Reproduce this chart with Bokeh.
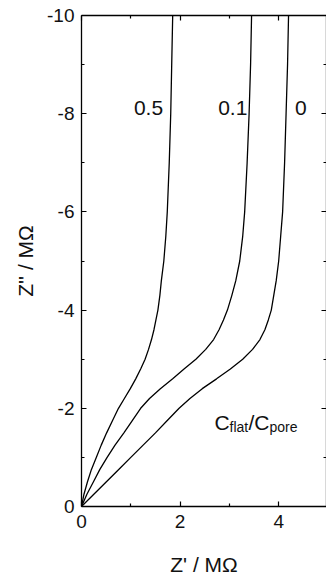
from bokeh.plotting import figure
from bokeh.models import Range1d, LinearAxis, FixedTicker, Label
from bokeh.embed import file_html
from bokeh.resources import INLINE

# Shared imaginary-part values (Z'' in MOhm)
z_imag = [0, -0.25, -0.5, -0.75, -1.0, -1.25, -1.5, -1.75, -2.0, -2.2, -2.4, -2.6, -2.8,
          -3.0, -3.2, -3.4, -3.6, -3.8, -4.0, -4.3, -4.6, -5.0, -5.5, -6.0, -7.0, -8.0,
          -9.0, -10.0]
# Real part (Z' in MOhm) for each Cflat/Cpore ratio
z_real_0 = [0, 0.25, 0.5, 0.75, 1.0, 1.25, 1.5, 1.74, 1.98, 2.2, 2.45, 2.74, 3.02,
            3.27, 3.47, 3.62, 3.72, 3.79, 3.85, 3.90, 3.95, 4.00, 4.04, 4.08, 4.12, 4.15,
            4.18, 4.20]
z_real_01 = [0, 0.11, 0.24, 0.37, 0.52, 0.68, 0.86, 1.03, 1.2, 1.38, 1.6, 1.85, 2.08,
             2.32, 2.52, 2.68, 2.79, 2.88, 2.96, 3.05, 3.13, 3.21, 3.27, 3.31, 3.36, 3.40,
             3.43, 3.45]
z_real_05 = [0, 0.05, 0.12, 0.2, 0.3, 0.4, 0.51, 0.63, 0.75, 0.87, 0.99, 1.1, 1.2,
             1.29, 1.36, 1.42, 1.47, 1.51, 1.55, 1.59, 1.62, 1.67, 1.71, 1.74, 1.78, 1.81,
             1.83, 1.85]

ratio_labels = ["0.5", "0.1", "0"]
x_major = [0, 2, 4]
x_minor = [1, 3]
y_major = [0, -2, -4, -6, -8, -10]
y_minor = [-1, -3, -5, -7, -9]

SANS = "Liberation Sans"

p = figure(width=326, height=578, x_range=Range1d(0, 4.97), y_range=Range1d(0, -10),
           output_backend="svg", toolbar_location=None,
           min_border_left=81, min_border_right=0, min_border_top=15, min_border_bottom=72)
p.grid.visible = False
p.outline_line_color = None
p.background_fill_color = "white"
p.border_fill_color = "white"


def style_axis(ax):
    ax.axis_line_color = "black"
    ax.axis_line_width = 1.3
    ax.major_tick_line_color = "black"
    ax.minor_tick_line_color = "black"
    ax.major_tick_line_width = 1.2
    ax.minor_tick_line_width = 1.2
    ax.major_tick_in = 5
    ax.major_tick_out = 0
    ax.minor_tick_in = 3
    ax.minor_tick_out = 0
    ax.major_label_text_font = SANS
    ax.major_label_text_font_size = "19px"
    ax.major_label_text_color = "#111111"
    ax.axis_label_text_font = SANS
    ax.axis_label_text_font_style = "normal"
    ax.axis_label_text_font_size = "21px"
    ax.axis_label_text_color = "#111111"


p.xaxis.ticker = FixedTicker(ticks=x_major, minor_ticks=x_minor)
p.yaxis.ticker = FixedTicker(ticks=y_major, minor_ticks=y_minor)
for ax in p.xaxis:
    style_axis(ax)
    ax.major_label_standoff = 8
    ax.axis_label = "Z' / M\u03a9"
    ax.axis_label_standoff = 22
for ax in p.yaxis:
    style_axis(ax)
    ax.major_label_standoff = 7
    ax.major_label_overrides = {v: str(v) for v in y_major}
    ax.axis_label = "Z'' / M\u03a9"
    ax.axis_label_standoff = 7

top = LinearAxis(ticker=FixedTicker(ticks=x_major, minor_ticks=x_minor))
style_axis(top)
top.major_label_overrides = {v: "" for v in x_major}
top.major_label_standoff = 0
p.add_layout(top, "above")
right = LinearAxis(ticker=FixedTicker(ticks=y_major, minor_ticks=y_minor))
style_axis(right)
right.major_label_overrides = {v: "" for v in y_major}
right.major_label_standoff = 0
p.add_layout(right, "right")

for xs in (z_real_05, z_real_01, z_real_0):
    p.line(xs, z_imag, line_color="black", line_width=1.3)

# curve labels
label_x = [1.359, 3.069, 4.448]
for t, lx in zip(ratio_labels, label_x):
    p.add_layout(Label(x=lx, y=-8.116, text=t, text_align="center",
                       text_baseline="alphabetic", text_font=SANS,
                       text_font_size="21px", text_color="#111111"))

# Cflat/Cpore legend text
parts = [("C", 2.698, -1.717, "21px"), ("flat", 3.002, -1.615, "14px"),
         ("/C", 3.387, -1.717, "21px"), ("pore", 3.813, -1.615, "14px")]
for t, lx, ly, fs in parts:
    p.add_layout(Label(x=lx, y=ly, text=t, text_align="left", text_baseline="alphabetic",
                       text_font=SANS, text_font_size=fs, text_color="#111111"))

open("out.html", "w").write(file_html(p, INLINE))
